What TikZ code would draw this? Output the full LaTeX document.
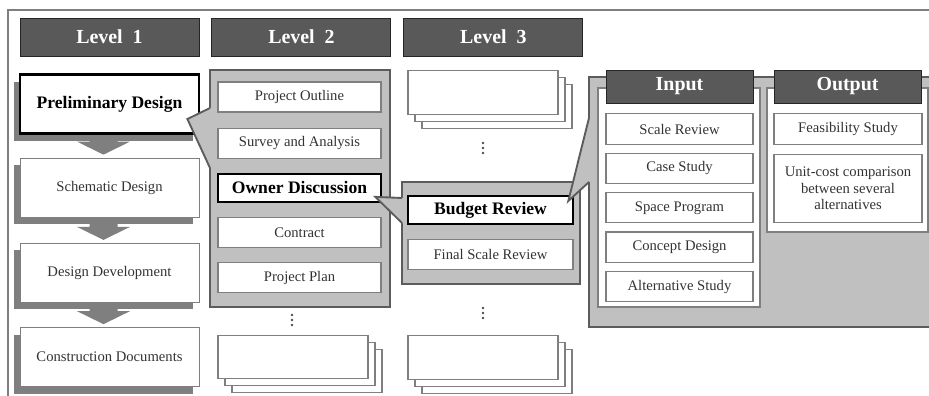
\documentclass[tikz,border=0pt]{standalone}
\usepackage{fontspec}
\setmainfont{Liberation Serif}
\usepackage{tikz}
\usetikzlibrary{calc}
\usetikzlibrary{positioning}
\usetikzlibrary{shadows}

\definecolor{headGray}{HTML}{595959}
\definecolor{panelGray}{HTML}{C0C0C0}
\definecolor{edgeGray}{HTML}{7F7F7F}
\definecolor{rimGray}{HTML}{5C5C5C}
\definecolor{inkGray}{HTML}{333333}

\begin{document}
\begin{tikzpicture}[x=0.03cm, y=-0.03cm]
            % Set primary nodes
            \tikzset{
                headerNode/.style={
                        draw=black!85,
                        fill=headGray,
                        rectangle,
                        line width=0.8pt,
                        minimum height=1.14cm,
                        minimum width=5.37cm,
                        text=white,
                        font=\fontsize{17}{19}\selectfont\bfseries
                    }
            }
            \tikzset{
                stageNode/.style={
                        draw=edgeGray,
                        fill=white,
                        rectangle,
                        line width=0.8pt,
                        minimum height=1.77cm,
                        minimum width=5.37cm,
                        text=inkGray,
                        font=\fontsize{12.5}{14.5}\selectfont,
                        general shadow={fill=edgeGray, shadow xshift=-0.17cm, shadow yshift=-0.21cm}
                    }
            }
            \tikzset{
                itemNode/.style={
                        draw=edgeGray,
                        fill=white,
                        rectangle,
                        line width=0.9pt,
                        minimum height=0.9cm,
                        minimum width=4.89cm,
                        text=inkGray,
                        font=\fontsize{12.5}{14.5}\selectfont
                    }
            }
            \tikzset{
                keyNode/.style={
                        draw=black,
                        line width=2.2pt,
                        text=black,
                        font=\fontsize{15}{17}\selectfont\bfseries
                    }
            }
            \tikzset{
                panelNode/.style={
                        draw=rimGray,
                        fill=panelGray,
                        rectangle,
                        line width=1.6pt,
                        outer sep=0pt
                    }
            }
            \tikzset{
                sheetNode/.style={
                        draw=edgeGray,
                        fill=white,
                        rectangle,
                        line width=0.9pt
                    }
            }
            \tikzset{
                stackNode/.style={
                        draw=edgeGray,
                        fill=white,
                        rectangle,
                        line width=0.9pt,
                        minimum height=1.3cm,
                        minimum width=4.5cm,
                        general shadow={draw=edgeGray, fill=white, line width=0.9pt, shadow xshift=0.42cm, shadow yshift=-0.42cm},
                        general shadow={draw=edgeGray, fill=white, line width=0.9pt, shadow xshift=0.21cm, shadow yshift=-0.21cm}
                    }
            }
            % Configure arrows
            \tikzstyle{flowArrow} = [fill=edgeGray]
            \tikzstyle{pointerLine} = [draw=rimGray, line width=1.6pt, line join=miter]
            \tikzstyle{dotMark} = [fill=black!70]
            % Placing nodes
            \useasboundingbox (0,0) rectangle (929,396);
            \draw[draw=edgeGray, line width=1.2pt] (940,10) -- (8,10) -- (8,400);
            \node[headerNode](levelOne) at (109.5,37){Level~~1};
            \node[headerNode, right = 0.36cm of levelOne](levelTwo){Level~~2};
            \node[headerNode, right = 0.36cm of levelTwo](levelThree){Level~~3};
            % Level 1
            \node[stageNode, keyNode, line width=2.4pt, below = 0.5cm of levelOne](prelimDesign){Preliminary Design};
            \node[stageNode, below = 0.68cm of prelimDesign](schematicDesign){Schematic Design};
            \node[stageNode, below = 0.76cm of schematicDesign](designDevelopment){Design Development};
            \node[stageNode, below = 0.73cm of designDevelopment](constructionDocs){Construction Documents};
            \foreach \upper/\lower in {prelimDesign/schematicDesign, schematicDesign/designDevelopment, designDevelopment/constructionDocs}{
                \fill[flowArrow] ($(\upper.south)+(-20,6)$) -- ($(\upper.south)+(8,6)$) -- ($(\lower.north)+(8,-16)$) -- ($(\lower.north)+(20.5,-16)$) -- ($(\lower.north)+(-6,-3)$) -- ($(\lower.north)+(-32.5,-16)$) -- ($(\lower.north)+(-20,-16)$) -- cycle;
            }
            % Level 2
            \node[panelNode, minimum width=5.4cm, minimum height=7.11cm](ownerPanel) at (300,188.5){};
            \coordinate (prelimTip) at ($(prelimDesign.east)+(-13,15)$);
            \fill[panelGray] ($(ownerPanel.north west)+(0,38)$) -- (prelimTip) -- ($(ownerPanel.north west)+(0,98)$) -- ($(ownerPanel.north west)+(3,98)$) -- ($(ownerPanel.north west)+(3,38)$) -- cycle;
            \draw[pointerLine] ($(ownerPanel.north west)+(0,38)$) -- (prelimTip) -- ($(ownerPanel.north west)+(0,98)$);
            \node[itemNode](projectOutline) at (299.5,97){Project Outline};
            \node[itemNode, below = 0.45cm of projectOutline](surveyAnalysis){Survey and Analysis};
            \node[itemNode, keyNode, minimum height=0.84cm, below = 0.42cm of surveyAnalysis](ownerDiscussion){Owner Discussion};
            \node[itemNode, below = 0.42cm of ownerDiscussion](contract){Contract};
            \node[itemNode, below = 0.42cm of contract](projectPlan){Project Plan};
            \foreach \dy in {-5,0,5}{
                \fill[dotMark] (292,320+\dy) circle (1.3);
            }
            \node[stackNode](levelTwoStack) at (293,357){};
            % Level 3
            \node[stackNode](topStack) at (483,92.5){};
            \foreach \dy in {-5,0,5}{
                \fill[dotMark] (483,148+\dy) circle (1.3);
                \fill[dotMark] (483,313+\dy) circle (1.3);
            }
            \node[panelNode, minimum width=5.34cm, minimum height=3.06cm](budgetPanel) at (491,233){};
            \coordinate (ownerTip) at ($(ownerDiscussion.east)+(-7,9)$);
            \fill[panelGray] ($(budgetPanel.north west)+(0,16)$) -- (ownerTip) -- ($(budgetPanel.north west)+(0,41)$) -- ($(budgetPanel.north west)+(3,41)$) -- ($(budgetPanel.north west)+(3,16)$) -- cycle;
            \draw[pointerLine] ($(budgetPanel.north west)+(0,16)$) -- (ownerTip) -- ($(budgetPanel.north west)+(0,41)$);
            \node[itemNode, keyNode, minimum width=4.95cm, minimum height=0.84cm](budgetReview) at (490.5,210){Budget Review};
            \node[itemNode, minimum width=4.95cm, below = 0.42cm of budgetReview](finalScale){Final Scale Review};
            \node[stackNode](bottomStack) at (483,357.5){};
            % Input and output
            \node[panelNode, minimum width=10.38cm, minimum height=7.5cm](studyPanel) at (762,202){};
            \coordinate (budgetTip) at ($(budgetReview.east)+(-6,-9)$);
            \fill[panelGray] ($(studyPanel.north west)+(0,41)$) -- (budgetTip) -- ($(studyPanel.north west)+(0,105)$) -- ($(studyPanel.north west)+(3,105)$) -- ($(studyPanel.north west)+(3,41)$) -- cycle;
            \draw[pointerLine] ($(studyPanel.north west)+(0,41)$) -- (budgetTip) -- ($(studyPanel.north west)+(0,105)$);
            \node[sheetNode, minimum width=4.86cm, minimum height=6.57cm](inputPanel) at (679,197.5){};
            \node[sheetNode, minimum width=4.83cm, minimum height=4.32cm](outputPanel) at (847.5,160){};
            \node[headerNode, minimum width=4.41cm, minimum height=0.99cm](inputHead) at (679.5,86.5){Input};
            \node[headerNode, minimum width=4.41cm, minimum height=0.99cm](outputHead) at (847.5,86.5){Output};
            \node[itemNode, minimum width=4.41cm, minimum height=0.91cm](scaleReview) at (679.5,129){Scale Review};
            \node[itemNode, minimum width=4.41cm, minimum height=0.91cm, below = 0.24cm of scaleReview](caseStudy){Case Study};
            \node[itemNode, minimum width=4.41cm, minimum height=0.91cm, below = 0.24cm of caseStudy](spaceProgram){Space Program};
            \node[itemNode, minimum width=4.41cm, minimum height=0.91cm, below = 0.24cm of spaceProgram](conceptDesign){Concept Design};
            \node[itemNode, minimum width=4.41cm, minimum height=0.91cm, below = 0.24cm of conceptDesign](alternativeStudy){Alternative Study};
            \node[itemNode, minimum width=4.44cm, minimum height=0.91cm](feasibilityStudy) at (848,129){Feasibility Study};
            \node[itemNode, minimum width=4.44cm, minimum height=2.04cm, align=center, below = 0.27cm of feasibilityStudy](unitCost){Unit-cost comparison\\between several\\alternatives};
\end{tikzpicture}
\end{document}
